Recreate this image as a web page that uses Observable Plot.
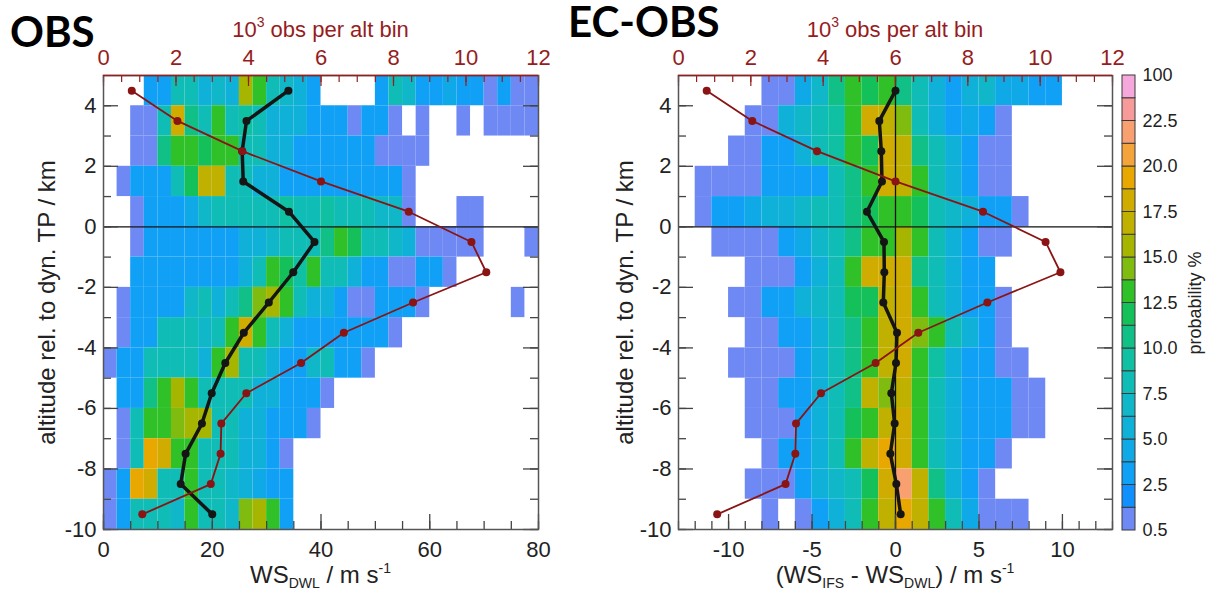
<!DOCTYPE html>
<html><head><meta charset="utf-8">
<script src="https://cdn.jsdelivr.net/npm/d3@7"></script>
<script src="https://cdn.jsdelivr.net/npm/@observablehq/plot@0.6"></script>
<style>
body{margin:0;background:#fff;}
#wrap{position:relative;width:1207px;height:596px;overflow:hidden;background:#fff;font-family:"Liberation Sans",Arial,sans-serif;}
#wrap svg{position:absolute;top:0;}
.lbl{position:absolute;white-space:nowrap;line-height:1;transform:translateX(-50%);color:#222;}
.lbl sub,.lbl sup{font-size:14px;vertical-align:baseline;position:relative;}
.lbl sub{top:5px;} .lbl sup{top:-10px;}
.ttl{position:absolute;font-family:Lato,"Open Sans",sans-serif;font-weight:700;font-size:42px;line-height:40px;color:#000;}
</style></head>
<body><div id="wrap"></div>
<script>
// ---- data ----
const altitude = [4.5, 3.5, 2.5, 1.5, 0.5, -0.5, -1.5, -2.5, -3.5, -4.5, -5.5, -6.5, -7.5, -8.5, -9.5];
const wsDwlMean = [34.0, 26.3, 25.5, 25.7, 34.1, 38.8, 34.9, 30.4, 25.8, 22.4, 19.9, 18.1, 15.1, 14.2, 20.0];
const wsDiffMean = [0.0, -0.97, -0.85, -0.81, -1.71, -0.69, -0.67, -0.73, 0.09, 0.03, -0.25, -0.05, -0.31, 0.05, 0.31];
const obsPerBin = [0.78, 2.04, 3.83, 6.0, 8.42, 10.15, 10.56, 8.54, 6.63, 5.45, 3.94, 3.25, 3.23, 2.96, 1.07]; // 10^3
const altTop = 5, altBin = 1;
const obsBinStart = 0, obsBinWidth = 2.5;
const diffBinStart = -13, diffBinWidth = 1;
const probEdges = [0.5, 1.5, 2.5, 3.75, 5, 6.25, 7.5, 8.75, 10, 11.25, 12.5, 13.75, 15, 16.25, 17.5, 18.75, 20, 21.25, 22.5, 25, 100];
const probColors = ["#6e88f4","#1090ff","#10a0f6","#10a9e8","#10b1d8","#10b7c8","#10bcb6","#10c0a2","#10c086","#14c05a",
  "#30c028","#80bb10","#a6b500","#c0b000","#d0ac00","#e8a800","#f5a43c","#f8a070","#f69a9a","#f6a8dc"];
const colorbarLabels = ["0.5","2.5","5.0","7.5","10.0","12.5","15.0","17.5","20.0","22.5","100"];
const levelCodes = "0123456789abcdefghij";
// probability level per cell, rows from top (4..5 km) to bottom (-10..-9 km)
const obsGrid = [
"...2266454ca6542....265223220200",
"..006e86a6764442220220.0..0.0000",
"..008aa9aa66442222220000........",
".022269dd66442222222220.........",
"..022235666667667666550...00....",
"..022222224456668a9665400000...0",
"..2222222246a97a6642200220......",
".0222256468bca6442002220......0.",
".02266656aea6422222220..........",
"02266664ac6642256220............",
".228aca6666442220...............",
".06aabcc66442220................",
".06feaa6664420..................",
"02fe66a6654322..................",
"026665a665bca2.................."];
const diffGrid = [
".....00358a9a8642453322...",
"....004567aedb642320......",
"...0022467a9ed864200......",
".0000222268aeda64200......",
".02234456689aa9654220.....",
"..000023568aaca64200......",
"....000246aeee86422.......",
"...002245699dea64220......",
"....0022468adeba6420......",
"...00002468adea742200.....",
"....0022468dbda6422200....",
"....0002469adea6422200....",
".....02246adfea64220......",
"....00024569ehd8420.......",
".....0.0246adfda63000....."];

// ---- helpers ----
const FONT = '"Liberation Sans", Arial, sans-serif';
const RED = "#961d1d", LINE_RED = "#8a1414", INK = "#222";
const levelMid = probColors.map((c, i) => (probEdges[i] + probEdges[i + 1]) / 2);
const colorScale = {type: "threshold", domain: probEdges.slice(1, -1), range: probColors};
const profile = altitude.map((alt, i) => ({alt, wsDwl: wsDwlMean[i], wsDiff: wsDiffMean[i], obs: obsPerBin[i]}));
const plain = d => String(+d.toFixed(6));

function cellsFrom(grid, x0, w) {
  const out = [];
  grid.forEach((row, r) => [...row].forEach((ch, c) => {
    const k = levelCodes.indexOf(ch);
    if (k < 0) return;
    out.push({x1: x0 + c * w, x2: x0 + (c + 1) * w, y1: altTop - (r + 1) * altBin, y2: altTop - r * altBin, p: levelMid[k]});
  }));
  return out;
}

const H = 596, MT = 75, MB = 67;
function panel(o) {
  const plotW = o.width - o.marginLeft - o.marginRight, plotH = H - MT - MB;
  const [a, b] = o.xDomain;
  const toBottom = c => a + c * (b - a) / 12;      // top axis (0..12) -> bottom units
  const toTop = x => (x - a) * 12 / (b - a);
  const topMajor = d3.range(0, 12.001, 2), topMinor = d3.range(0, 12.001, 0.5);
  const yMajor = d3.range(-10, 5, 2), yMinor = d3.range(-10, 5, 1);
  return Plot.plot({
    width: o.width, height: H, marginTop: MT, marginBottom: MB, marginLeft: o.marginLeft, marginRight: o.marginRight,
    x: {domain: o.xDomain}, y: {domain: [-10, 5]}, color: colorScale,
    style: {fontFamily: FONT, fontSize: "22px", color: INK, background: "transparent", overflow: "visible"},
    marks: [
      Plot.rect(o.cells, {x1: "x1", x2: "x2", y1: "y1", y2: "y2", fill: "p"}),
      Plot.ruleY([0], {stroke: "#111", strokeWidth: 1.3}),
      o.vline ? Plot.ruleX([0], {stroke: "#111", strokeWidth: 1.3}) : null,
      // inward ticks
      Plot.tickX(o.bottomMinor, {x: d => d, insetTop: plotH - 8, stroke: "#444", strokeWidth: 1.3}),
      Plot.tickX(o.bottomMajor, {x: d => d, insetTop: plotH - 15, stroke: "#444", strokeWidth: 1.3}),
      Plot.tickX(topMinor.map(toBottom), {x: d => d, insetBottom: plotH - 7, stroke: RED, strokeWidth: 1.2}),
      Plot.tickX(topMajor.map(toBottom), {x: d => d, insetBottom: plotH - 11, stroke: RED, strokeWidth: 1.2}),
      Plot.tickY(yMinor, {y: d => d, insetRight: plotW - 8, stroke: "#444", strokeWidth: 1.3}),
      Plot.tickY(yMajor, {y: d => d, insetRight: plotW - 15, stroke: "#444", strokeWidth: 1.3}),
      Plot.tickY(yMinor, {y: d => d, insetLeft: plotW - 8, stroke: "#444", strokeWidth: 1.3}),
      Plot.tickY(yMajor, {y: d => d, insetLeft: plotW - 15, stroke: "#444", strokeWidth: 1.3}),
      Plot.frame({stroke: "#555", strokeWidth: 1.5}),
      Plot.ruleY([5], {stroke: RED, strokeWidth: 1.5}),
      Plot.axisX({ticks: o.bottomMajor, tickFormat: plain, tickSize: 0, tickPadding: 12, label: null, fill: INK, fontSize: 22}),
      Plot.axisX({anchor: "top", ticks: topMajor.map(toBottom), tickFormat: x => String(Math.round(toTop(x))),
        tickSize: 0, tickPadding: 11, label: null, fill: RED, fontSize: 22}),
      Plot.axisY({ticks: yMajor, tickFormat: plain, tickSize: 0, tickPadding: 7, label: null, fill: INK, fontSize: 22}),
      Plot.text(["altitude rel. to dyn. TP / km"], {frameAnchor: "left", textAnchor: "middle", rotate: -90, dx: o.yLabelDx, fontSize: 24, fill: INK}),
      Plot.line(profile, {x: o.meanKey, y: "alt", stroke: "#151515", strokeWidth: 3.5}),
      Plot.dot(profile, {x: o.meanKey, y: "alt", r: 4, fill: "#151515"}),
      Plot.line(profile, {x: d => toBottom(d.obs), y: "alt", stroke: LINE_RED, strokeWidth: 1.8}),
      Plot.dot(profile, {x: d => toBottom(d.obs), y: "alt", r: 4, fill: LINE_RED})
    ]
  });
}

const wrap = document.getElementById("wrap");

const left = panel({width: 560, marginLeft: 103, marginRight: 22, xDomain: [0, 80],
  cells: cellsFrom(obsGrid, obsBinStart, obsBinWidth), meanKey: "wsDwl",
  bottomMajor: d3.range(0, 80.001, 20), bottomMinor: d3.range(0, 80.001, 5), yLabelDx: -56, vline: false});
left.style.left = "0px";
wrap.appendChild(left);

const right = panel({width: 560, marginLeft: 118, marginRight: 8, xDomain: [-13, 13],
  cells: cellsFrom(diffGrid, diffBinStart, diffBinWidth), meanKey: "wsDiff",
  bottomMajor: [-10, -5, 0, 5, 10], bottomMinor: d3.range(-13, 13.001, 1), yLabelDx: -53, vline: true});
right.style.left = "560px";
wrap.appendChild(right);

const levels = probColors.map((c, i) => ({i, p: levelMid[i]}));
const bar = Plot.plot({
  width: 97, height: H, marginTop: 75, marginBottom: 66, marginLeft: 12, marginRight: 72,
  y: {domain: [0, probColors.length]}, color: colorScale,
  style: {fontFamily: FONT, fontSize: "18px", color: INK, background: "transparent", overflow: "visible"},
  marks: [
    Plot.rect(levels, {y1: "i", y2: d => d.i + 1, fill: "p", stroke: "#3a3a3a", strokeWidth: 1}),
    Plot.axisY({anchor: "right", ticks: d3.range(0, probColors.length + 1, 2), tickFormat: i => colorbarLabels[i / 2],
      tickSize: 0, tickPadding: 7, label: null, fill: INK, fontSize: 18}),
    Plot.text(["probability %"], {frameAnchor: "right", textAnchor: "middle", rotate: -90, dx: 60, fontSize: 18, fill: INK})
  ]
});
bar.style.left = "1110px";
wrap.appendChild(bar);

// text labels with sub/superscripts
function addLabel(html, cx, top, size, color) {
  const d = document.createElement("div");
  d.className = "lbl"; d.innerHTML = html;
  d.style.left = cx + "px"; d.style.top = top + "px"; d.style.fontSize = size + "px";
  if (color) d.style.color = color;
  wrap.appendChild(d);
}
addLabel("10<sup>3</sup> obs per alt bin", 320.5, 19, 22, RED);
addLabel("10<sup>3</sup> obs per alt bin", 895, 19, 22, RED);
addLabel("WS<sub>DWL</sub> / m s<sup>-1</sup>", 320.5, 563, 24);
addLabel("(WS<sub>IFS</sub> - WS<sub>DWL</sub>) / m s<sup>-1</sup>", 895, 563, 24);

function addTitle(t, x, y) {
  const d = document.createElement("div");
  d.className = "ttl"; d.textContent = t; d.style.left = x + "px"; d.style.top = y + "px";
  wrap.appendChild(d);
}
addTitle("OBS", 10, 11);
addTitle("EC-OBS", 568, 1);
</script></body></html>
